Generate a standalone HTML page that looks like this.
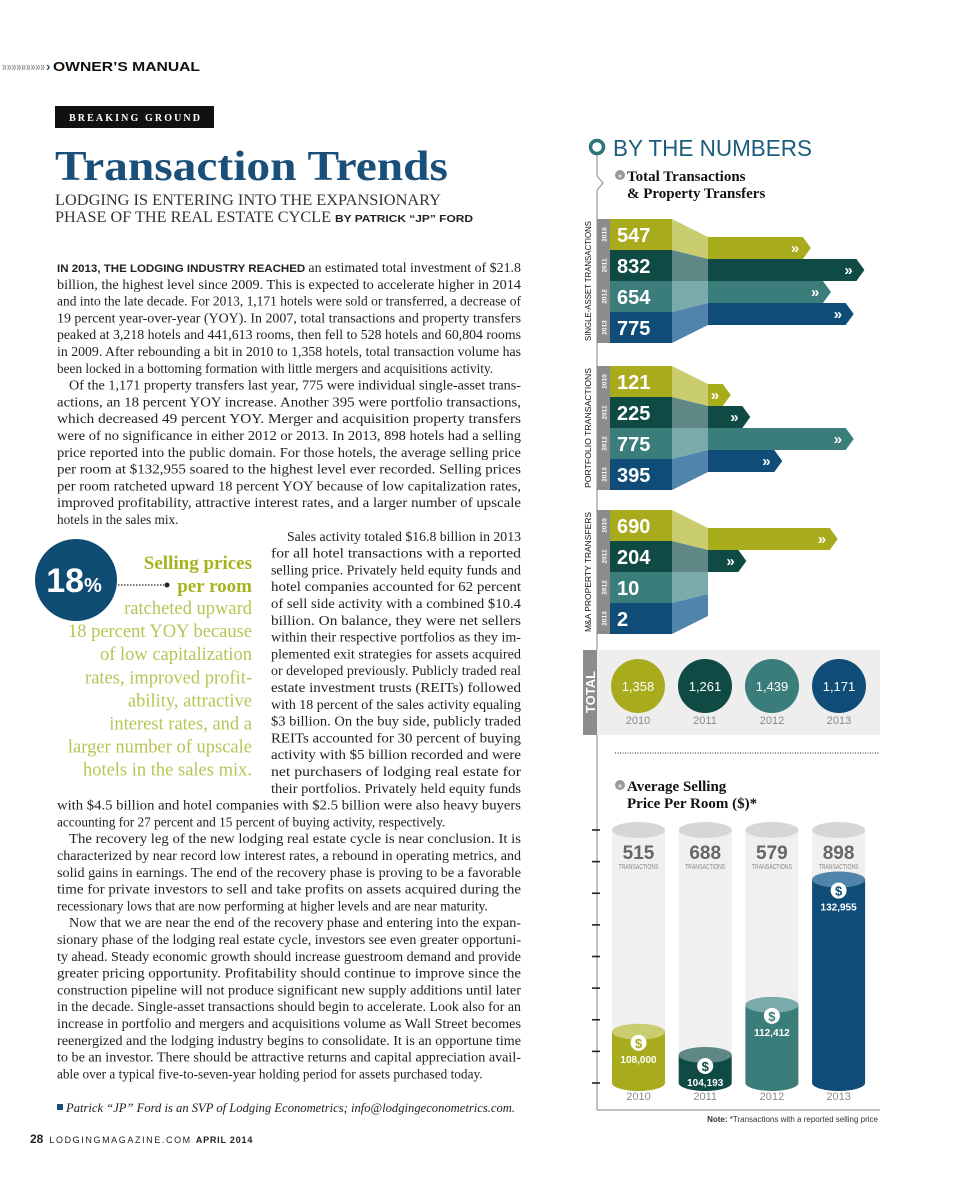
<!DOCTYPE html>
<html><head><meta charset="utf-8">
<style>
html,body{margin:0;padding:0;background:#fff;}
svg{display:block;}
.serif{font-family:"Liberation Serif",serif;}
.sans{font-family:"Liberation Sans",sans-serif;}
</style></head>
<body>
<svg id="page" width="960" height="1193" viewBox="0 0 960 1193" xmlns="http://www.w3.org/2000/svg">
  <rect width="960" height="1193" fill="#fff"/>
  <!-- header -->
  <text x="2" y="71" class="sans" font-size="13" font-weight="bold" fill="#9a9a9a" textLength="43" lengthAdjust="spacingAndGlyphs">»»»»»»»»»</text>
  <text x="46" y="71" class="sans" font-size="13" font-weight="bold" fill="#1a4f7a">›</text>
  <text x="53" y="71" class="sans" font-size="13" font-weight="bold" fill="#111" textLength="147" lengthAdjust="spacingAndGlyphs">OWNER’S MANUAL</text>
  <rect x="55" y="106" width="159" height="22" fill="#111"/>
  <text x="69" y="121" class="serif" font-size="10" font-weight="bold" fill="#fff" textLength="131" lengthAdjust="spacing">BREAKING GROUND</text>
  <text x="55" y="180" class="serif" font-size="42" font-weight="bold" fill="#1a4f7a" textLength="393" lengthAdjust="spacingAndGlyphs">Transaction Trends</text>
  <text x="55" y="205" class="serif" font-size="15.5" fill="#333" textLength="386" lengthAdjust="spacingAndGlyphs">LODGING IS ENTERING INTO THE EXPANSIONARY</text>
  <text x="55" y="222" class="serif" font-size="15.5" fill="#333" textLength="276" lengthAdjust="spacingAndGlyphs">PHASE OF THE REAL ESTATE CYCLE</text>
  <text x="335" y="222" class="sans" font-size="10" font-weight="bold" fill="#222" textLength="138" lengthAdjust="spacingAndGlyphs">BY PATRICK “JP” FORD</text>

  <g id="body"></g>

  <!-- pull quote -->
  <circle cx="76" cy="580" r="41" fill="#0f4c73"/>
  <text x="74" y="592" text-anchor="middle" class="sans" font-weight="bold" fill="#fff"><tspan font-size="34">18</tspan><tspan font-size="20">%</tspan></text>
  <line x1="118" y1="585" x2="164" y2="585" stroke="#222" stroke-width="1.2" stroke-dasharray="1.5,1.5"/>
  <circle cx="167" cy="585" r="2.5" fill="#222"/>
  <text x="252" y="569" text-anchor="end" class="serif" font-size="19" font-weight="bold" fill="#a6b41f">Selling prices</text>
  <text x="252" y="592" text-anchor="end" class="serif" font-size="19" font-weight="bold" fill="#a6b41f">per room</text>
  <g id="pq" class="serif" font-size="18.5" fill="#b8c454" text-anchor="end"></g>

  <!-- footer -->
  <rect x="57" y="1104" width="6" height="6" fill="#1a4f7a"/>
  <text x="66" y="1112" class="serif" font-size="12.5" font-style="italic" fill="#222" textLength="449" lengthAdjust="spacingAndGlyphs">Patrick “JP” Ford is an SVP of Lodging Econometrics; info@lodgingeconometrics.com.</text>
  <text x="30" y="1143" class="sans" font-size="9" fill="#222"><tspan font-weight="bold" font-size="12">28</tspan><tspan dx="6" letter-spacing="1.6">LODGINGMAGAZINE.COM</tspan><tspan dx="4" font-weight="bold" letter-spacing="0.8">APRIL 2014</tspan></text>

  <!-- infographic -->
  <g id="info">
    <line x1="597" y1="155" x2="597" y2="176" stroke="#999" stroke-width="1.2"/>
    <polyline points="597,176 603,183 597,190" fill="none" stroke="#999" stroke-width="1.2"/>
    <line x1="597" y1="190" x2="597" y2="1110" stroke="#999" stroke-width="1.2"/>
    <line x1="597" y1="1110" x2="880" y2="1110" stroke="#999" stroke-width="1.2"/>
    <circle cx="597" cy="147" r="6.5" fill="#fff" stroke="#2d7477" stroke-width="3.5"/>
    <text x="613" y="156" class="sans" font-size="23" fill="#1c5d7e" textLength="199" lengthAdjust="spacingAndGlyphs">BY THE NUMBERS</text>
    <circle cx="620" cy="175" r="5" fill="#999"/><text x="620" y="178" text-anchor="middle" class="sans" font-size="7" fill="#fff" font-weight="bold">»</text>
    <text x="627" y="181" class="serif" font-size="15" font-weight="bold" fill="#111">Total Transactions</text>
    <text x="627" y="198" class="serif" font-size="15" font-weight="bold" fill="#111">&amp; Property Transfers</text>
    <g id="bars"></g>
    <!-- totals -->
    <rect x="597" y="650" width="283" height="85" fill="#eeeeee"/>
    <rect x="583" y="650" width="14" height="85" fill="#8c8c8c"/>
    <text transform="translate(595,692) rotate(-90)" text-anchor="middle" class="sans" font-size="13" font-weight="bold" fill="#fff">TOTAL</text>
    <g id="totals"></g>
    <line x1="615" y1="753" x2="880" y2="753" stroke="#555" stroke-width="1.2" stroke-dasharray="1,1.5"/>
    <circle cx="620" cy="785" r="5" fill="#999"/><text x="620" y="788" text-anchor="middle" class="sans" font-size="7" fill="#fff" font-weight="bold">»</text>
    <text x="627" y="791" class="serif" font-size="15" font-weight="bold" fill="#111">Average Selling</text>
    <text x="627" y="808" class="serif" font-size="15" font-weight="bold" fill="#111">Price Per Room ($)*</text>
    <g id="cyl"></g>
    <text x="878" y="1122" text-anchor="end" class="sans" font-size="8" fill="#333"><tspan font-weight="bold">Note:</tspan> *Transactions with a reported selling price</text>
  </g>
</svg>
<script>
const NS='http://www.w3.org/2000/svg';
function mk(tag,attrs,parent,txt){const e=document.createElementNS(NS,tag);for(const k in attrs)e.setAttribute(k,attrs[k]);if(txt!==undefined)e.textContent=txt;parent.appendChild(e);return e;}

// ---------- article text ----------
const bodyLines=[
['IN 2013, THE LODGING INDUSTRY REACHED|an estimated total investment of $21.8','L',0,1],
['billion, the highest level since 2009. This is expected to accelerate higher in 2014','L',0,1],
['and into the late decade. For 2013, 1,171 hotels were sold or transferred, a decrease of','L',0,1],
['19 percent year-over-year (YOY). In 2007, total transactions and property transfers','L',0,1],
['peaked at 3,218 hotels and 441,613 rooms, then fell to 528 hotels and 60,804 rooms','L',0,1],
['in 2009. After rebounding a bit in 2010 to 1,358 hotels, total transaction volume has','L',0,1],
['been locked in a bottoming formation with little mergers and acquisitions activity.','L',0,0],
['Of the 1,171 property transfers last year, 775 were individual single-asset trans-','L',1,1],
['actions, an 18 percent YOY increase. Another 395 were portfolio transactions,','L',0,1],
['which decreased 49 percent YOY. Merger and acquisition property transfers','L',0,1],
['were of no significance in either 2012 or 2013. In 2013, 898 hotels had a selling','L',0,1],
['price reported into the public domain. For those hotels, the average selling price','L',0,1],
['per room at $132,955 soared to the highest level ever recorded. Selling prices','L',0,1],
['per room ratcheted upward 18 percent YOY because of low capitalization rates,','L',0,1],
['improved profitability, attractive interest rates, and a larger number of upscale','L',0,1],
['hotels in the sales mix.','L',0,0],
['Sales activity totaled $16.8 billion in 2013','R',1,1],
['for all hotel transactions with a reported','R',0,1],
['selling price. Privately held equity funds and','R',0,1],
['hotel companies accounted for 62 percent','R',0,1],
['of sell side activity with a combined $10.4','R',0,1],
['billion. On balance, they were net sellers','R',0,1],
['within their respective portfolios as they im-','R',0,1],
['plemented exit strategies for assets acquired','R',0,1],
['or developed previously. Publicly traded real','R',0,1],
['estate investment trusts (REITs) followed','R',0,1],
['with 18 percent of the sales activity equaling','R',0,1],
['$3 billion. On the buy side, publicly traded','R',0,1],
['REITs accounted for 30 percent of buying','R',0,1],
['activity with $5 billion recorded and were','R',0,1],
['net purchasers of lodging real estate for','R',0,1],
['their portfolios. Privately held equity funds','R',0,1],
['with $4.5 billion and hotel companies with $2.5 billion were also heavy buyers','L',0,1],
['accounting for 27 percent and 15 percent of buying activity, respectively.','L',0,0],
['The recovery leg of the new lodging real estate cycle is near conclusion. It is','L',1,1],
['characterized by near record low interest rates, a rebound in operating metrics, and','L',0,1],
['solid gains in earnings. The end of the recovery phase is proving to be a favorable','L',0,1],
['time for private investors to sell and take profits on assets acquired during the','L',0,1],
['recessionary lows that are now performing at higher levels and are near maturity.','L',0,0],
['Now that we are near the end of the recovery phase and entering into the expan-','L',1,1],
['sionary phase of the lodging real estate cycle, investors see even greater opportuni-','L',0,1],
['ty ahead. Steady economic growth should increase guestroom demand and provide','L',0,1],
['greater pricing opportunity. Profitability should continue to improve since the','L',0,1],
['construction pipeline will not produce significant new supply additions until later','L',0,1],
['in the decade. Single-asset transactions should begin to accelerate. Look also for an','L',0,1],
['increase in portfolio and mergers and acquisitions volume as Wall Street becomes','L',0,1],
['reenergized and the lodging industry begins to consolidate. It is an opportune time','L',0,1],
['to be an investor. There should be attractive returns and capital appreciation avail-','L',0,1],
['able over a typical five-to-seven-year holding period for assets purchased today.','L',0,0]
];
const bodyG=document.getElementById('body');
bodyLines.forEach((l,i)=>{
  const left=l[1]==='L'?57:271, right=521;
  const x=left+(l[2]?(l[1]==='L'?12:16):0);
  const attrs={x:x,y:(272+i*16.8).toFixed(1),'class':'serif','font-size':'13.3',fill:'#222'};
  if(l[3]){attrs.textLength=right-x;attrs.lengthAdjust='spacingAndGlyphs';}
  const t=mk('text',attrs,bodyG);
  
  
  const parts=l[0].split('|');
  if(parts.length>1){
    mk('tspan',{'font-family':'Liberation Sans, sans-serif','font-weight':'bold','font-size':'11'},t,parts[0]+' ');
    mk('tspan',{},t,parts[1]);
  } else t.textContent=l[0];
});
const pqLines=['ratcheted upward','18 percent YOY because','of low capitalization','rates, improved profit-','ability, attractive','interest rates, and a','larger number of upscale','hotels in the sales mix.'];
const pqG=document.getElementById('pq');
pqLines.forEach((s,i)=>{const t=mk('text',{x:252,y:(614+i*23.1).toFixed(1)},pqG,s);
  
  });

// ---------- chart data ----------
const years=['2010','2011','2012','2013'];
const singleAsset=[547,832,654,775];
const portfolio=[121,225,775,395];
const mna=[690,204,10,2];
const totals=['1,358','1,261','1,439','1,171'];
const avgPrice=[108000,104193,112412,132955];
const txCounts=[515,688,579,898];

const dark=['#a7ab1c','#0f4a45','#3a7d7b','#0f4d78'];
const light=['#c9cd70','#5f8786','#7aabaa','#5184ab'];
const barScale=v=>v*0.188;   // px per transaction
const bars=document.getElementById('bars');
const groups=[
  {name:'SINGLE-ASSET TRANSACTIONS',key:'single-asset',vals:singleAsset,top:219},
  {name:'PORTFOLIO TRANSACTIONS',key:'portfolio',vals:portfolio,top:366},
  {name:'M&A PROPERTY TRANSFERS',key:'mna',vals:mna,top:510}
];
groups.forEach(g=>{
  const rowH=31,bH=22,bTop=g.top+18,x0=610,x1=672,x2=708;
  const gg=mk('g',{},bars);
  
  
  mk('rect',{x:597,y:g.top,width:13,height:rowH*4,fill:'#8c8c8c'},gg);
  const lbl=mk('text',{transform:`translate(591,${g.top+rowH*2}) rotate(-90)`,'text-anchor':'middle','class':'sans','font-size':'8.6',fill:'#111',textLength:rowH*4-4,lengthAdjust:'spacingAndGlyphs'},gg,g.name);
  
  
  g.vals.forEach((v,i)=>{
    const ry=g.top+i*rowH, by=bTop+i*bH, len=barScale(v);
    const end=x2+len;
    if(len>10){
      const b=mk('polygon',{points:`${x2},${by} ${end-8},${by} ${end},${by+bH/2} ${end-8},${by+bH} ${x2},${by+bH}`,fill:dark[i]},gg);
      
      
      mk('text',{x:end-20,y:by+16,'class':'sans','font-size':'15','font-weight':'bold',fill:'#fff'},gg,'»');
    }
    const tp=mk('polygon',{points:`${x1},${ry} ${x2},${by} ${x2},${by+bH} ${x1},${ry+rowH}`,fill:light[i]},gg);
    
    
    const blk=mk('rect',{x:x0,y:ry,width:x1-x0,height:rowH,fill:dark[i]},gg);
    
    
    const vt=mk('text',{x:617,y:ry+rowH/2+7.5,'class':'sans','font-size':'20','font-weight':'bold',fill:'#fff'},gg,String(v));
    
    
    mk('text',{transform:`translate(606.5,${ry+rowH/2}) rotate(-90)`,'text-anchor':'middle','class':'sans','font-size':'6.5','font-weight':'bold',fill:'#fff'},gg,years[i]);
  });
});

const tg=document.getElementById('totals');
totals.forEach((t,i)=>{
  const cx=638+i*67;
  const c=mk('circle',{cx:cx,cy:686,r:27,fill:dark[i]},tg);
  
  
  const tt=mk('text',{x:cx,y:691,'text-anchor':'middle','class':'sans','font-size':'13',fill:'#fff'},tg,t);
  
  
  const yt=mk('text',{x:cx,y:724,'text-anchor':'middle','class':'sans','font-size':'11',fill:'#8a8a8a'},tg,years[i]);
  
  
});

// ---------- cylinder chart ----------
const cg=document.getElementById('cyl');
const baseY=1083, topY=830;
const yScale=v=>baseY-(v-99600)*0.0061;
for(let k=0;k<9;k++){
  const t=mk('line',{x1:592,y1:topY+k*(baseY-topY)/8,x2:600,y2:topY+k*(baseY-topY)/8,stroke:'#222','stroke-width':'1.6'},cg);
  
  
}
avgPrice.forEach((v,i)=>{
  const x=612+i*66.7, w=53, cx=x+w/2, ry=8;
  const bg=mk('path',{d:`M${x},${topY} L${x},${baseY} A${w/2},${ry} 0 0 0 ${x+w},${baseY} L${x+w},${topY} Z`,fill:'#f0f0f0'},cg);
  
  
  mk('ellipse',{cx:cx,cy:topY,rx:w/2,ry:ry,fill:'#d6d6d6'},cg);
  const n=mk('text',{x:cx,y:topY+29,'text-anchor':'middle','class':'sans','font-size':'19','font-weight':'bold',fill:'#666'},cg,String(txCounts[i]));
  
  
  mk('text',{x:cx,y:topY+39,'text-anchor':'middle','class':'sans','font-size':'7',fill:'#888',textLength:'40',lengthAdjust:'spacingAndGlyphs'},cg,'TRANSACTIONS');
  const yt=yScale(v);
  const bar=mk('path',{d:`M${x},${yt} L${x},${baseY} A${w/2},${ry} 0 0 0 ${x+w},${baseY} L${x+w},${yt} Z`,fill:dark[i]},cg);
  
  
  mk('ellipse',{cx:cx,cy:yt,rx:w/2,ry:ry,fill:light[i]},cg);
  mk('circle',{cx:cx,cy:yt+11,r:8,fill:'#fff'},cg);
  mk('text',{x:cx,y:yt+16,'text-anchor':'middle','class':'sans','font-size':'13','font-weight':'bold',fill:dark[i]},cg,'$');
  const pv=mk('text',{x:cx,y:yt+31,'text-anchor':'middle','class':'sans','font-size':'10','font-weight':'bold',fill:'#fff'},cg,v.toLocaleString('en-US'));
  
  
  const yl=mk('text',{x:cx,y:1100,'text-anchor':'middle','class':'sans','font-size':'11',fill:'#8a8a8a'},cg,years[i]);
  
  
});
</script>
</body></html>
